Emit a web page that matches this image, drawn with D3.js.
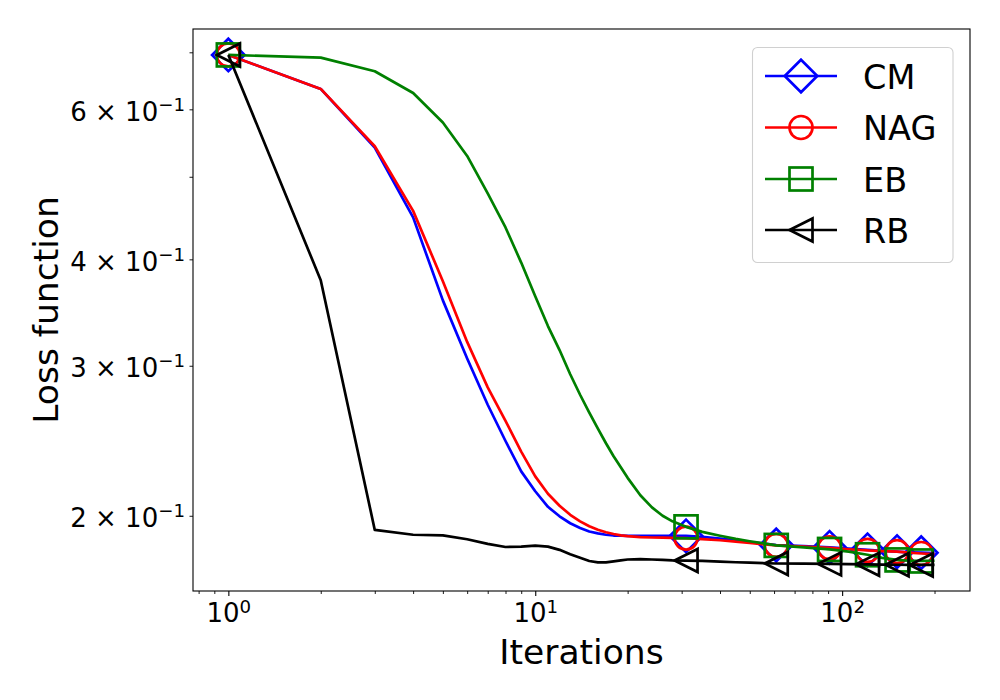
<!DOCTYPE html>
<html>
<head>
<meta charset="utf-8">
<script src="https://cdn.jsdelivr.net/npm/d3@7"></script>
<style>
  body { margin: 0; background: #fff; }
  text { font-family: "DejaVu Sans", sans-serif; fill: #000; }
</style>
</head>
<body>
<div id="chart"></div>
<script>
const iters = [1, 2, 3, 4, 5, 6, 7, 8, 9, 10, 11, 12, 13, 14, 15, 16, 17, 18, 19, 20,
    22, 24, 26, 28, 31, 35, 40, 45, 50, 61, 75, 91, 105, 121, 135, 151, 165, 181, 200];

const cmLoss = [0.695, 0.634, 0.541, 0.448, 0.358, 0.306, 0.270, 0.2448, 0.2255, 0.2137,
    0.2049, 0.1997, 0.1960, 0.1935, 0.1917, 0.1907, 0.1900, 0.1896, 0.1895, 0.1894,
    0.1894, 0.1894, 0.1894, 0.1894, 0.1894, 0.1889, 0.1880, 0.1871, 0.1863, 0.1848,
    0.1842, 0.1836, 0.1830, 0.1824, 0.1819, 0.1815, 0.1812, 0.1810, 0.1808];

const nagLoss = [0.695, 0.634, 0.543, 0.456, 0.377, 0.320, 0.283, 0.2585, 0.2379, 0.2225,
    0.2123, 0.2055, 0.2005, 0.1970, 0.1944, 0.1926, 0.1913, 0.1904, 0.1897, 0.1893,
    0.1888, 0.1886, 0.1885, 0.1884, 0.1883, 0.1878, 0.1872, 0.1865, 0.1858, 0.1846,
    0.1840, 0.1834, 0.1827, 0.1821, 0.1818, 0.1815, 0.1810, 0.1806, 0.1803];

const ebLoss = [0.695, 0.690, 0.665, 0.627, 0.579, 0.529, 0.478, 0.436, 0.3965, 0.362,
    0.334, 0.313, 0.2932, 0.2774, 0.2643, 0.2531, 0.2433, 0.2349, 0.2280, 0.2216,
    0.2114, 0.2046, 0.2000, 0.1970, 0.1941, 0.1915, 0.1895, 0.1879, 0.1867, 0.1846,
    0.1836, 0.1826, 0.1815, 0.1800, 0.1785, 0.1775, 0.1771, 0.1770, 0.1771];

const rbLoss = [0.695, 0.378, 0.1925, 0.1900, 0.1897, 0.1877, 0.1854, 0.1838, 0.1840, 0.1845,
    0.1840, 0.1824, 0.1802, 0.1785, 0.1770, 0.1763, 0.1763, 0.1768, 0.1773, 0.1777,
    0.1779, 0.1777, 0.1775, 0.1773, 0.1772, 0.1770, 0.1767, 0.1764, 0.1762, 0.1758,
    0.1757, 0.1756, 0.1755, 0.1754, 0.1753, 0.1752, 0.1751, 0.1751, 0.1751];

// every 30th iteration carries a marker
const markerIters = [1, 31, 61, 91, 121, 151, 181];

const seriesNames = ["CM", "NAG", "EB", "RB"];
const seriesColors = ["blue", "red", "green", "black"];
const seriesShapes = ["diamond", "circle", "square", "triangleLeft"];
const seriesValues = [cmLoss, nagLoss, ebLoss, rbLoss];

const xTicksMajor = [1, 10, 100];
const xTickExp = ["0", "1", "2"];
const xTicksMinor = [0.8, 0.9, 2, 3, 4, 5, 6, 7, 8, 9, 20, 30, 40, 50, 60, 70, 80, 90, 200];
const yTicks = [0.2, 0.3, 0.4, 0.5, 0.6, 0.7];
const yTickLabels = { 0.2: "2", 0.3: "3", 0.4: "4", 0.6: "6" };

const width = 1000, height = 700;
const margin = { left: 193, right: 970, top: 29, bottom: 591 };
const msize = 23;

const svg = d3.select("#chart").append("svg")
    .attr("width", width)
    .attr("height", height);

const x = d3.scaleLog().domain([0.767, 261]).range([margin.left, margin.right]);
const y = d3.scaleLog().domain([0.1632, 0.7455]).range([margin.bottom, margin.top]);

// draw a marker shape centred at 0,0
function drawMarker(g, shape, color) {
    const h = msize / 2;
    let el;
    if (shape === "circle") {
        el = g.append("circle").attr("r", h);
    } else if (shape === "square") {
        el = g.append("rect").attr("x", -h).attr("y", -h)
            .attr("width", msize).attr("height", msize);
    } else if (shape === "diamond") {
        const d = h * Math.SQRT2;
        el = g.append("path").attr("d", `M0,${-d}L${d},0L0,${d}L${-d},0Z`);
    } else {
        el = g.append("path").attr("d", `M${-h},0L${h},${-h}L${h},${h}Z`);
    }
    el.attr("fill", "none").attr("stroke", color).attr("stroke-width", 2.7)
        .attr("stroke-linejoin", "miter");
}

svg.append("defs").append("clipPath").attr("id", "plotclip")
    .append("rect").attr("x", margin.left).attr("y", margin.top)
    .attr("width", margin.right - margin.left).attr("height", margin.bottom - margin.top);

const plot = svg.append("g").attr("clip-path", "url(#plotclip)");

const line = d3.line()
    .x(d => x(d[0]))
    .y(d => y(d[1]));

seriesValues.forEach(function (vals, si) {
    const pts = iters.map((it, i) => [it, vals[i]]);
    plot.append("path")
        .datum(pts)
        .attr("fill", "none")
        .attr("stroke", seriesColors[si])
        .attr("stroke-width", 2.7)
        .attr("stroke-linejoin", "round")
        .attr("d", line);

    pts.filter(p => markerIters.includes(p[0])).forEach(function (p) {
        const g = plot.append("g")
            .attr("transform", "translate(" + x(p[0]) + "," + y(p[1]) + ")");
        drawMarker(g, seriesShapes[si], seriesColors[si]);
    });
});

// frame
svg.append("rect")
    .attr("x", margin.left).attr("y", margin.top)
    .attr("width", margin.right - margin.left).attr("height", margin.bottom - margin.top)
    .attr("fill", "none").attr("stroke", "#000").attr("stroke-width", 1.1);

// x axis: major ticks with labels, minor ticks without
const xMajor = svg.append("g")
    .attr("transform", "translate(0," + margin.bottom + ")")
    .call(d3.axisBottom(x).tickValues(xTicksMajor).tickSize(5).tickSizeOuter(0).tickFormat(""));
xMajor.select(".domain").remove();
xMajor.selectAll("line").attr("stroke-width", 1.1);
xMajor.selectAll(".tick text").remove();
xMajor.selectAll(".tick").append("text")
    .attr("text-anchor", "middle")
    .attr("y", 31)
    .style("font-size", "26px")
    .each(function (d, i) {
        const t = d3.select(this);
        t.append("tspan").text("10");
        t.append("tspan").attr("dy", -9).style("font-size", "18.2px").text(xTickExp[i]);
    });

const xMinor = svg.append("g")
    .attr("transform", "translate(0," + margin.bottom + ")")
    .call(d3.axisBottom(x)
        .tickValues(xTicksMinor.filter(v => x(v) > margin.left && x(v) < margin.right))
        .tickSize(3).tickSizeOuter(0).tickFormat(""));
xMinor.select(".domain").remove();
xMinor.selectAll("line").attr("stroke-width", 0.9);

// y axis: all ticks are minor ticks of the log axis, some labelled
const yAxis = svg.append("g")
    .attr("transform", "translate(" + margin.left + ",0)")
    .call(d3.axisLeft(y).tickValues(yTicks).tickSize(3.5).tickSizeOuter(0).tickFormat(""));
yAxis.select(".domain").remove();
yAxis.selectAll("line").attr("stroke-width", 0.9);
yAxis.selectAll(".tick text").remove();
yAxis.selectAll(".tick").filter(d => yTickLabels[d] !== undefined)
    .append("text")
    .attr("text-anchor", "end")
    .attr("x", -8)
    .attr("y", 11)
    .style("font-size", "26px")
    .each(function (d) {
        const t = d3.select(this);
        t.append("tspan").text(yTickLabels[d] + " \u00d7 10");
        t.append("tspan").attr("dy", -10).style("font-size", "18.2px").text("\u22121");
    });

// axis titles
svg.append("text")
    .attr("x", (margin.left + margin.right) / 2)
    .attr("y", 664)
    .attr("text-anchor", "middle")
    .style("font-size", "34.5px")
    .text("Iterations");

svg.append("text")
    .attr("transform", "translate(58," + (margin.top + margin.bottom) / 2 + ") rotate(-90)")
    .attr("text-anchor", "middle")
    .style("font-size", "34.5px")
    .text("Loss function");

// legend
const legend = svg.append("g").attr("class", "legend");
legend.append("rect")
    .attr("x", 752.5).attr("y", 47.5)
    .attr("width", 200.5).attr("height", 215)
    .attr("rx", 5)
    .attr("fill", "#fff").attr("fill-opacity", 0.8)
    .attr("stroke", "#d0d0d0").attr("stroke-width", 1.1);

const legendRowY = [76, 127.5, 179, 230];
seriesNames.forEach(function (name, i) {
    const g = legend.append("g").attr("transform", "translate(0," + legendRowY[i] + ")");
    g.append("line")
        .attr("x1", 765).attr("x2", 837)
        .attr("stroke", seriesColors[i]).attr("stroke-width", 2.7);
    const m = g.append("g").attr("transform", "translate(801,0)");
    drawMarker(m, seriesShapes[i], seriesColors[i]);
    g.append("text")
        .attr("x", 863)
        .attr("y", 12.5)
        .style("font-size", "33.5px")
        .text(name);
});
</script>
</body>
</html>
